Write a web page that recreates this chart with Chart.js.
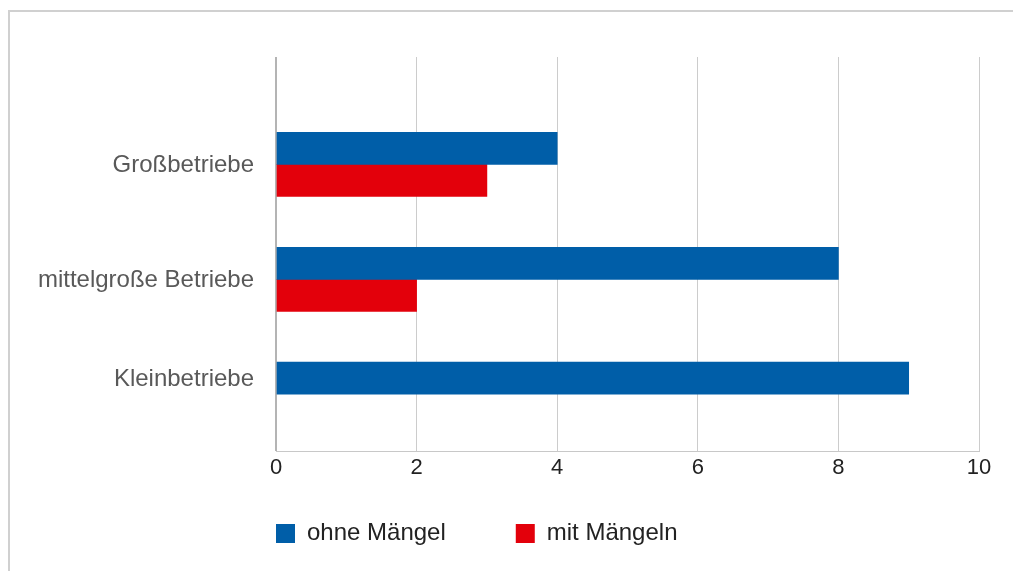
<!DOCTYPE html>
<html>
<head>
<meta charset="utf-8">
<script src="https://cdn.jsdelivr.net/npm/chart.js@4.4.1/dist/chart.umd.min.js"></script>
<style>
  html, body { margin: 0; padding: 0; background: #ffffff; overflow: hidden; width: 1013px; height: 571px; }
  #frame { position: absolute; left: 8px; top: 10px; width: 2000px; height: 2000px;
           border-left: 2px solid #d0d0d0; border-top: 2px solid #d0d0d0; box-sizing: border-box; }
  #c { position: absolute; left: 0; top: 0; }
</style>
</head>
<body>
<div id="frame"></div>
<canvas id="c" width="1013" height="571"></canvas>
<script>
// ---- data ----
const categories = ['Großbetriebe', 'mittelgroße Betriebe', 'Kleinbetriebe'];
const seriesNames = ['ohne Mängel', 'mit Mängeln'];
const ohneMaengel = [4, 8, 9];
const mitMaengeln = [3, 2, null];
const xTickValues = [0, 2, 4, 6, 8, 10];

const BLUE = '#005ea8';
const RED = '#e3000b';
const FONT = '"Liberation Sans", Arial, Helvetica, sans-serif';

Chart.defaults.font.family = FONT;

const gridColor = (ctx) => (ctx.tick && ctx.tick.value === 0) ? '#b4b4b4' : '#cccccc';
const gridWidth = (ctx) => (ctx.tick && ctx.tick.value === 0) ? 2 : 1;
const setTicks = (scale) => { scale.ticks = xTickValues.map(v => ({ value: v })); };

// Category labels centred on the bars that are actually drawn
const categoryLabels = {
  id: 'categoryLabels',
  afterDraw(chart) {
    const ctx = chart.ctx;
    const area = chart.chartArea;
    ctx.save();
    ctx.font = '24px ' + FONT;
    ctx.fillStyle = '#595959';
    ctx.textAlign = 'right';
    ctx.textBaseline = 'middle';
    chart.data.labels.forEach((label, i) => {
      const ys = [];
      chart.data.datasets.forEach((ds, d) => {
        if (ds.data[i] !== null && ds.data[i] !== undefined) ys.push(chart.getDatasetMeta(d).data[i].y);
      });
      if (!ys.length) return;
      const y = ys.reduce((a, b) => a + b, 0) / ys.length;
      ctx.fillText(label, area.left - 22, y + 1);
    });
    ctx.restore();
  }
};

// Start the legend at the left edge of the plot area, directly under the plot
const legendToPlot = {
  id: 'legendToPlot',
  afterLayout(chart) {
    const lg = chart.legend;
    const dx = chart.chartArea.left - lg.options.labels.padding - lg.left;
    lg.left += dx;
    lg.right += dx;
    lg.top = chart.chartArea.bottom;
    lg.bottom = chart.height;
    lg.height = lg.bottom - lg.top;
  }
};

new Chart(document.getElementById('c'), {
  type: 'bar',
  data: {
    labels: categories,
    datasets: [
      { label: seriesNames[0], data: ohneMaengel, backgroundColor: BLUE, borderWidth: 0 },
      { label: seriesNames[1], data: mitMaengeln, backgroundColor: RED, borderWidth: 0 }
    ]
  },
  options: {
    indexAxis: 'y',
    responsive: false,
    animation: false,
    events: [],
    barThickness: 32,
    layout: { padding: { left: 276, right: 34, top: 57, bottom: 15 } },
    scales: {
      y: { type: 'category', display: false },
      x: {
        type: 'linear', position: 'bottom',
        min: xTickValues[0], max: xTickValues[xTickValues.length - 1],
        afterBuildTicks: setTicks,
        grid: { color: gridColor, lineWidth: gridWidth, drawTicks: false },
        border: { display: true, color: '#c8c8c8', width: 1 },
        ticks: { color: '#222222', font: { size: 22 }, padding: 3, maxRotation: 0 }
      },
      x2: {
        type: 'linear', position: 'top', axis: 'x',
        min: xTickValues[0], max: xTickValues[xTickValues.length - 1],
        afterBuildTicks: setTicks,
        grid: { color: gridColor, lineWidth: gridWidth, drawOnChartArea: false, drawTicks: true, tickLength: 50 },
        border: { display: false },
        ticks: { display: false }
      }
    },
    plugins: {
      tooltip: { enabled: false },
      legend: {
        position: 'bottom',
        align: 'start',
        maxHeight: 72,
        labels: {
          boxWidth: 19, boxHeight: 19, padding: 70,
          color: '#222222', font: { size: 24 }
        }
      }
    }
  },
  plugins: [categoryLabels, legendToPlot]
});
</script>
</body>
</html>
